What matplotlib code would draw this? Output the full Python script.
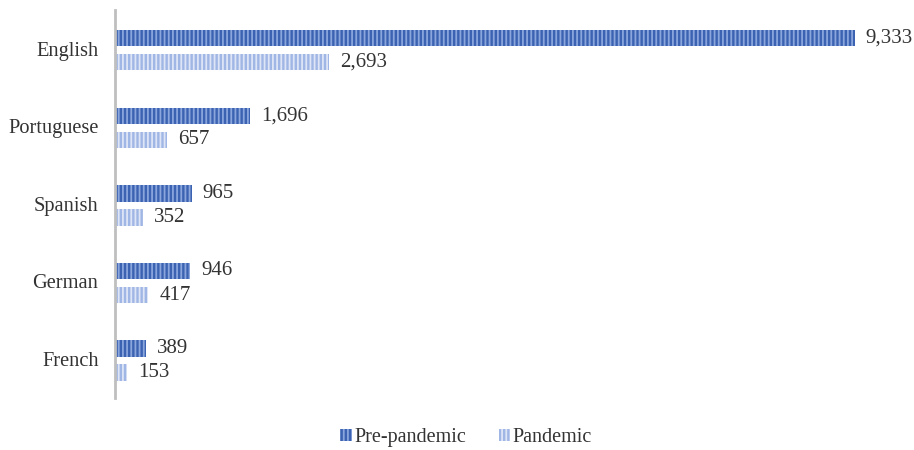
import matplotlib.pyplot as plt
import numpy as np

languages = ["English", "Portuguese", "Spanish", "German", "French"]
pre_pandemic = [9333, 1696, 965, 946, 389]
pandemic = [2693, 657, 352, 417, 153]

plt.rcParams["font.family"] = ["Liberation Serif", "DejaVu Serif"]
plt.rcParams["hatch.linewidth"] = 1.3

fig = plt.figure(figsize=(9.14, 4.5), dpi=100)
ax = fig.add_axes([0.126, 0.116, 0.867, 0.862])

y = np.arange(len(languages))
h = 0.21
off = 0.155

bars_pre = ax.barh(y - off + 0.02, pre_pandemic, height=h, color="#3C63B2",
                   edgecolor="#8AA6DD", hatch="||||", linewidth=0,
                   label="Pre-pandemic")
bars_pan = ax.barh(y + off + 0.02, pandemic, height=h, color="#A0B6E4",
                   edgecolor="#DDE5F6", hatch="||||", linewidth=0,
                   label="Pandemic")

for bars, vals in ((bars_pre, pre_pandemic), (bars_pan, pandemic)):
    for b, v in zip(bars, vals):
        ax.annotate(f"{v:,}", (v, b.get_y() + b.get_height() / 2),
                    xytext=(8, 0), textcoords="offset points",
                    va="center", ha="left", fontsize=15, color="#333333")

ax.set_xlim(0, 10000)
ax.set_ylim(len(languages) - 0.5, -0.5)
ax.set_yticks(y)
ax.set_yticklabels(languages, fontsize=14.7, color="#333333")
ax.tick_params(axis="y", length=0, pad=12)
ax.set_xticks([])
for s in ("top", "right", "bottom"):
    ax.spines[s].set_visible(False)
ax.spines["left"].set_color("#BFBFBF")
ax.spines["left"].set_linewidth(2)

fig.legend(handles=[bars_pre, bars_pan], loc="lower center",
           bbox_to_anchor=(0.51, -0.033), ncol=2, frameon=False, fontsize=14.5,
           handlelength=0.55, handleheight=0.55, handletextpad=0.15,
           columnspacing=1.6, labelcolor="#333333")

fig.savefig("out.png", dpi=100)
